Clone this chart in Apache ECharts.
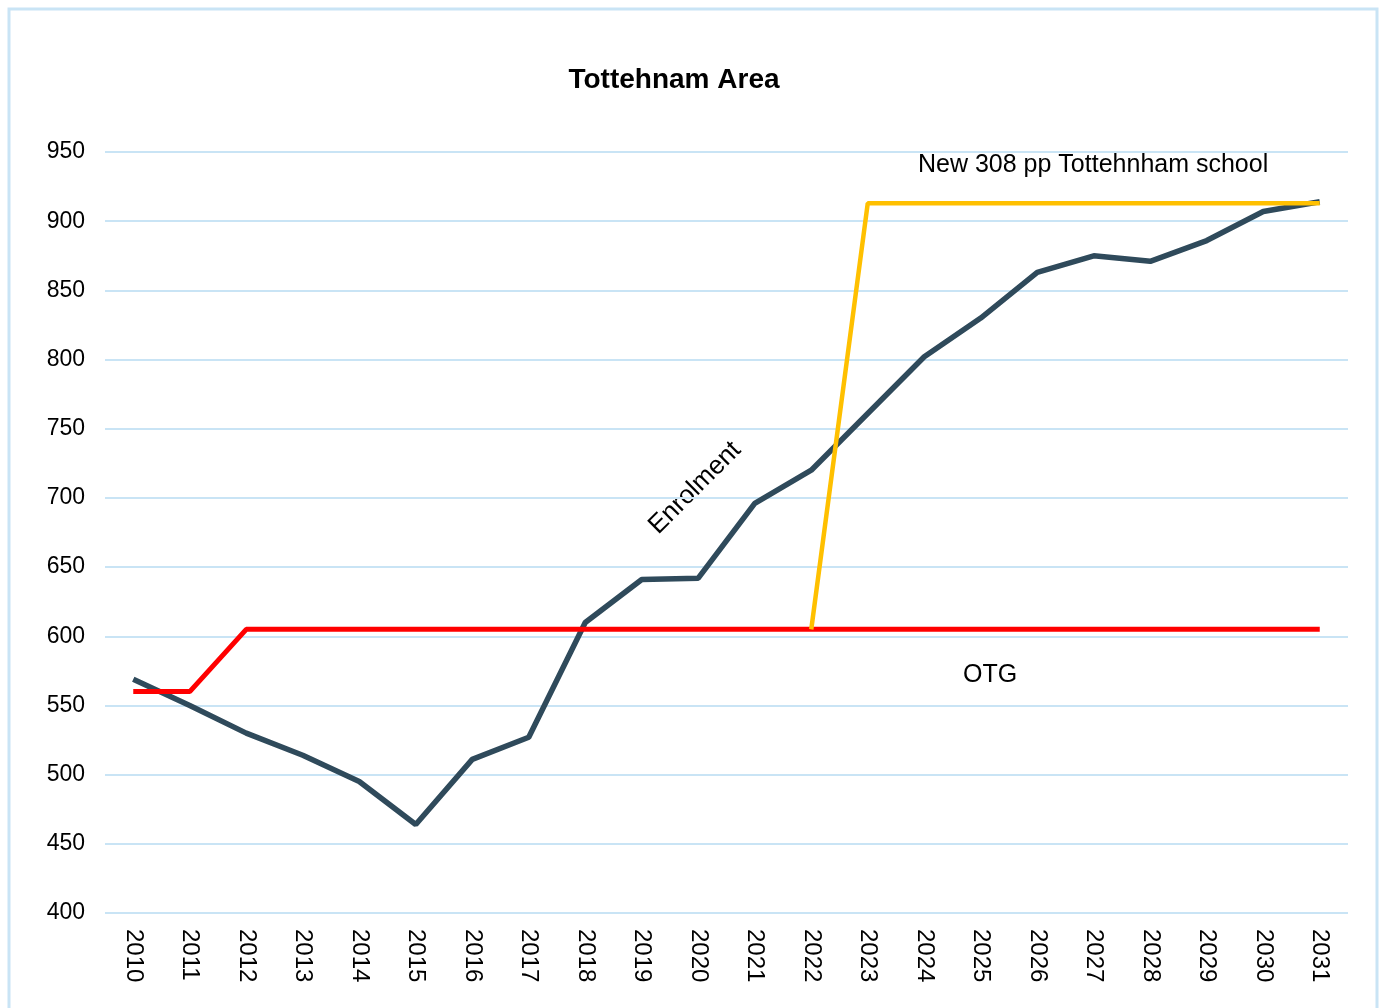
<!DOCTYPE html>
<html>
<head>
<meta charset="utf-8">
<script src="https://cdn.jsdelivr.net/npm/echarts@6/dist/echarts.min.js"></script>
<style>
  html, body { margin: 0; padding: 0; background: #fff; }
  #chart { width: 1379px; height: 1008px; }
</style>
</head>
<body>
<div id="chart"></div>
<script>
// data
const years = ['2010', '2011', '2012', '2013', '2014', '2015', '2016', '2017', '2018', '2019', '2020',
  '2021', '2022', '2023', '2024', '2025', '2026', '2027', '2028', '2029', '2030', '2031']
const enrolment = [569, 550, 530, 514, 495, 464, 511, 527, 610, 641, 642,
  696, 720, 761, 802, 830, 863, 875, 871, 886, 907, 914]
const otg = [560, 560, 605, 605, 605, 605, 605, 605, 605, 605, 605,
  605, 605, 605, 605, 605, 605, 605, 605, 605, 605, 605]
const newSchool = [null, null, null, null, null, null, null, null, null, null, null,
  null, 605, 913, 913, 913, 913, 913, 913, 913, 913, 913]

const font = 'Liberation Sans, Arial, sans-serif'

const chart = echarts.init(document.getElementById('chart'))

const option = {
  backgroundColor: '#fff',
  animation: false,
  title: {
    text: 'Tottehnam Area',
    left: 669,
    top: 61,
    textAlign: 'center',
    textStyle: { fontFamily: font, fontSize: 28, fontWeight: 'bold', color: '#000' }
  },
  grid: { left: 105, right: 31, top: 152, bottom: 95 },
  xAxis: {
    type: 'category',
    data: years,
    boundaryGap: true,
    axisLine: { show: false },
    axisTick: { show: false },
    axisLabel: {
      rotate: -90,
      margin: 16,
      interval: 0,
      fontFamily: font,
      fontSize: 24,
      color: '#000'
    }
  },
  yAxis: {
    type: 'value',
    min: 400,
    max: 950,
    interval: 50,
    axisLine: { show: false },
    axisTick: { show: false },
    axisLabel: { margin: 20, fontFamily: font, fontSize: 23, color: '#000' },
    splitLine: { lineStyle: { color: '#c9e4f5', width: 2 } }
  },
  series: [
    {
      name: 'OTG',
      type: 'line',
      data: otg,
      symbol: 'none',
      lineStyle: { color: '#ff0000', width: 5 },
      z: 3
    },
    {
      name: 'New 308 pp Tottehnham school',
      type: 'line',
      data: newSchool,
      symbol: 'none',
      lineStyle: { color: '#ffc000', width: 4.5 },
      z: 4
    },
    {
      name: 'Enrolment',
      type: 'line',
      data: enrolment,
      symbol: 'none',
      lineStyle: { color: '#2f4a5b', width: 5.5 },
      z: 2
    }
  ],
  graphic: [
    {
      type: 'text',
      left: 918,
      top: 153,
      style: { text: 'New 308 pp Tottehnham school', font: '25px ' + font, fill: '#000' }
    },
    {
      type: 'text',
      left: 963,
      top: 663,
      style: { text: 'OTG', font: '25px ' + font, fill: '#000' }
    },
    {
      type: 'text',
      x: 695,
      y: 488,
      rotation: Math.PI / 4,
      style: { text: 'Enrolment', font: '26px ' + font, fill: '#000', align: 'center', verticalAlign: 'middle' }
    },
    {
      type: 'rect',
      shape: { x: 9, y: 9, width: 1368, height: 1010 },
      style: { fill: 'none', stroke: '#c9e4f5', lineWidth: 3 }
    }
  ]
}

chart.setOption(option)
</script>
</body>
</html>
